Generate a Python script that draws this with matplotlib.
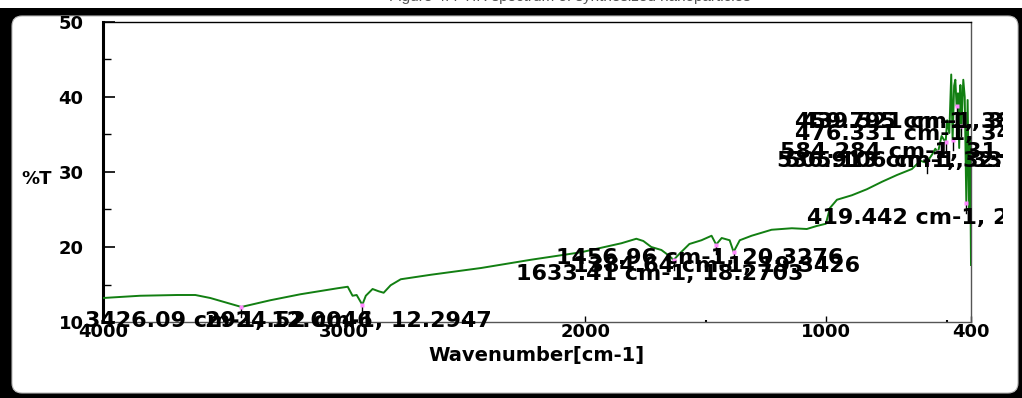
import matplotlib
matplotlib.use("Agg")
import matplotlib.pyplot as plt
from matplotlib.patches import FancyBboxPatch, Rectangle
from matplotlib.transforms import IdentityTransform, Bbox, TransformedBbox

# FTIR spectrum, transmittance (%T) vs wavenumber (cm-1)
wavenumber = [4000, 3846, 3692, 3617, 3555, 3426.09, 3306, 3181, 3027, 2985,
              2965, 2948, 2924.52, 2910, 2882, 2857, 2836, 2807, 2765, 2640,
              2432, 2225, 2017, 1850, 1788, 1759, 1726, 1684, 1651, 1633.41,
              1609, 1568, 1518, 1476, 1456.96, 1434, 1401, 1384.64, 1359, 1310,
              1227, 1143, 1081, 1040, 1002, 985, 956, 894, 832, 769,
              707, 645, 610, 584.284, 560, 548, 536.913, 522, 505.106, 499,
              490, 482, 476.331, 470, 465, 459.795, 454, 449, 444, 439.521,
              432, 426, 419.442, 414, 408, 404, 400]
transmittance = [13.2, 13.5, 13.6, 13.6, 13.2, 12.0046, 12.9, 13.7, 14.5, 14.7,
                 13.5, 13.6, 12.2947, 13.5, 14.4, 14.1, 13.9, 14.9, 15.7, 16.3,
                 17.2, 18.3, 19.3, 20.5, 21.1, 20.8, 20.0, 19.6, 18.8, 18.2703,
                 19.1, 20.4, 20.9, 21.5, 20.3276, 21.2, 20.9, 19.3426, 20.9, 21.5,
                 22.3, 22.5, 22.4, 22.8, 23.1, 25.2, 26.3, 26.9, 27.7, 28.7,
                 29.6, 30.4, 31.5, 31.2247, 32.4, 33.1, 32.6018, 34.8, 33.9431, 36.9,
                 35.2, 43.0, 34.2672, 41.5, 42.3, 38.8205, 40.5, 33.2, 41.6, 36.1014,
                 42.3, 40.0, 25.8834, 39.6, 24.9, 34.3, 17.6]

# picked peaks
peak_wn = [3426.09, 2924.52, 1633.41, 1456.96, 1384.64, 419.442,
           584.284, 536.913, 505.106, 476.331, 459.795, 439.521]
peak_t = [12.0046, 12.2947, 18.2703, 20.3276, 19.3426, 25.8834,
          31.2247, 32.6018, 33.9431, 34.2672, 38.8205, 36.1014]
# where each peak label is written (wavenumber, %T of its left/centre point)
label_pos = [(4075, 10.13), (3576, 10.13), (2287, 16.40), (2121, 18.53),
             (2050, 17.47), (1081, 23.87), (1193, 32.67), (1206, 31.47),
             (1173, 31.47), (1131, 35.07), (1131, 36.67), (1102, 36.67)]

xticks = [4000, 3000, 2000, 1000, 400]
yticks = [10, 20, 30, 40, 50]

W, H = 1022, 398
fig = plt.figure(figsize=(W / 100, H / 100), dpi=100)
fig.patch.set_facecolor("black")

# caption strip at the top and the rounded white panel
fig.patches.append(Rectangle((0, H - 8), W, 8, transform=IdentityTransform(),
                             facecolor="white", edgecolor="none", zorder=-2))
fig.patches.append(FancyBboxPatch((12, 5), 1006, 377,
                                  boxstyle="round,pad=0,rounding_size=10",
                                  transform=IdentityTransform(),
                                  facecolor="white", edgecolor="#bbbbbb",
                                  linewidth=0.8, zorder=-2))
fig.text(570 / W, 1 - 1.5 / H, "Figure 4: FTIR spectrum of synthesized nanoparticles",
         ha="center", va="baseline", fontsize=11, color="#555555",
         family="Liberation Sans")

ax = fig.add_axes([103 / W, 1 - 322 / H, (971 - 103) / W, (322 - 22) / H])
ax.set_facecolor("white")
ax.plot(wavenumber, transmittance, color="#127f12", lw=1.4, zorder=3)

# peak markers
for wn, t in zip(peak_wn, peak_t):
    ax.plot([wn, wn], [t - 1.3, t - 0.2], color="black", lw=1.0, zorder=4)
ax.plot(peak_wn, peak_t, "s", color="#ff88ff", ms=3, mec="none", zorder=5)

ax.set_xlim(4000, 400)
ax.set_ylim(10, 50)

for side in ["top", "right", "bottom"]:
    ax.spines[side].set_linewidth(1.0)
ax.spines["left"].set_linewidth(2.2)
ax.spines["right"].set_color("#555555")
ax.spines["bottom"].set_color("#555555")

ax.set_xticks(xticks)
ax.set_xticklabels([str(v) for v in xticks])
ax.set_xticks([3500, 2500, 1500, 500], minor=True)
ax.set_yticks(yticks)
ax.set_yticklabels([str(v) for v in yticks])
ax.set_yticks([15, 25, 35, 45], minor=True)

ax.tick_params(axis="y", which="major", direction="in", length=8.5, width=1.2,
               pad=14, labelsize=13)
ax.tick_params(axis="y", which="minor", direction="in", length=6, width=1.0)
ax.tick_params(axis="x", which="major", direction="in", length=4.5, width=1.0,
               pad=1, labelsize=13)
ax.tick_params(axis="x", which="minor", direction="in", length=1.5, width=1.5)
for lab in ax.get_xticklabels() + ax.get_yticklabels():
    lab.set_fontweight("bold")

fig.text(37 / W, 1 - 179 / H, "%T", ha="center", va="center",
         fontsize=13, fontweight="bold")
fig.text(536 / W, 1 - 355 / H, "Wavenumber[cm-1]", ha="center", va="center",
         fontsize=14, fontweight="bold")

# peak annotations, cut off at the right edge of the panel
clip = TransformedBbox(Bbox([[0, 0], [1003 / W, 1]]), fig.transFigure)
for (wn, t), (lx, ly) in zip(zip(peak_wn, peak_t), label_pos):
    txt = ax.text(lx, ly, f"{wn:g} cm-1, {t:.4f}", ha="left", va="center",
                  fontsize=16, fontweight="bold", color="black", zorder=6)
    txt.set_clip_on(True)
    txt.set_clip_box(clip)

fig.savefig("out.png", dpi=100, facecolor=fig.get_facecolor())
